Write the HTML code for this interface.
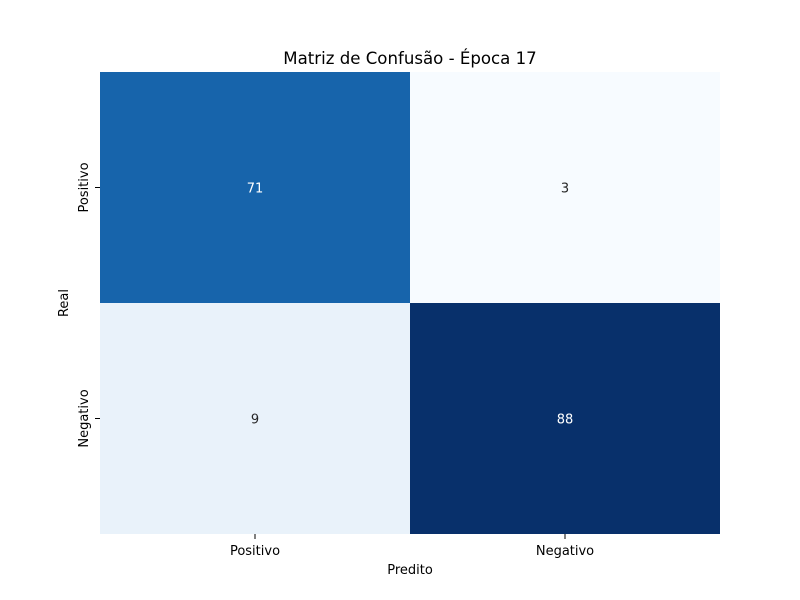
<!DOCTYPE html>
<html><head><meta charset="utf-8"><style>
body{margin:0;background:#fff;}
svg{display:block;font-family:"DejaVu Sans","Liberation Sans",sans-serif;}
</style></head><body>
<svg id="chart" width="800" height="600">
<rect width="800" height="600" fill="#fff"/>
<text x="410" y="64" font-size="16.6" text-anchor="middle" fill="#000">Matriz de Confusão - Época 17</text>
<g id="cells"></g>
<g id="axes"></g>
<text x="410" y="574" font-size="13" text-anchor="middle" fill="#000">Predito</text>
<text transform="translate(68,303) rotate(-90)" font-size="13" text-anchor="middle" fill="#000">Real</text>
</svg>
<script>
const xLabels = ["Positivo","Negativo"];
const yLabels = ["Positivo","Negativo"];
const values = [[71,3],[9,88]];
const L=100,R=720,T=72,B=534;
const stops=[[247,251,255],[222,235,247],[198,219,239],[158,202,225],[107,174,214],[66,146,198],[33,113,181],[8,81,156],[8,48,107]];
function blues(t){t=Math.max(0,Math.min(1,t));const p=t*8,i=Math.min(7,Math.floor(p)),f=p-i;
 const c=stops[i].map((v,k)=>Math.round(v+(stops[i+1][k]-v)*f));return c;}
const flat=values.flat(),vmin=Math.min(...flat),vmax=Math.max(...flat);
const cw=(R-L)/xLabels.length,ch=(B-T)/yLabels.length;
const xs=i=>L+i*cw, ys=j=>T+j*ch;
const ns="http://www.w3.org/2000/svg";
const cells=document.getElementById('cells'),axes=document.getElementById('axes');
values.forEach((row,j)=>row.forEach((v,i)=>{
 const c=blues((v-vmin)/(vmax-vmin));
 const r=document.createElementNS(ns,'rect');
 r.setAttribute('x',xs(i));r.setAttribute('y',ys(j));r.setAttribute('width',cw);r.setAttribute('height',ch);
 r.setAttribute('fill',`rgb(${c})`);
 
 
 cells.appendChild(r);
 const lum=(0.2126*c[0]+0.7152*c[1]+0.0722*c[2])/255;
 const t=document.createElementNS(ns,'text');
 t.setAttribute('x',xs(i)+cw/2);t.setAttribute('y',ys(j)+ch/2+5);
 t.setAttribute('font-size','13');t.setAttribute('text-anchor','middle');
 t.setAttribute('fill',lum>0.408?'#262626':'#ffffff');
 t.textContent=v;
 
 
 cells.appendChild(t);
}));
xLabels.forEach((s,i)=>{
 const x=xs(i)+cw/2;
 const l=document.createElementNS(ns,'line');
 l.setAttribute('x1',x);l.setAttribute('x2',x);l.setAttribute('y1',B);l.setAttribute('y2',B+5);l.setAttribute('stroke','#000');
 
 
 axes.appendChild(l);
 const t=document.createElementNS(ns,'text');
 t.setAttribute('x',x);t.setAttribute('y',B+21);t.setAttribute('font-size','13');t.setAttribute('text-anchor','middle');
 t.textContent=s;
 
 
 axes.appendChild(t);
});
yLabels.forEach((s,j)=>{
 const y=ys(j)+ch/2;
 const l=document.createElementNS(ns,'line');
 l.setAttribute('x1',L-5);l.setAttribute('x2',L);l.setAttribute('y1',y);l.setAttribute('y2',y);l.setAttribute('stroke','#000');
 
 
 axes.appendChild(l);
 const t=document.createElementNS(ns,'text');
 t.setAttribute('transform',`translate(${L-12},${y}) rotate(-90)`);
 t.setAttribute('font-size','13');t.setAttribute('text-anchor','middle');
 t.textContent=s;
 
 
 axes.appendChild(t);
});
</script>
</body></html>
